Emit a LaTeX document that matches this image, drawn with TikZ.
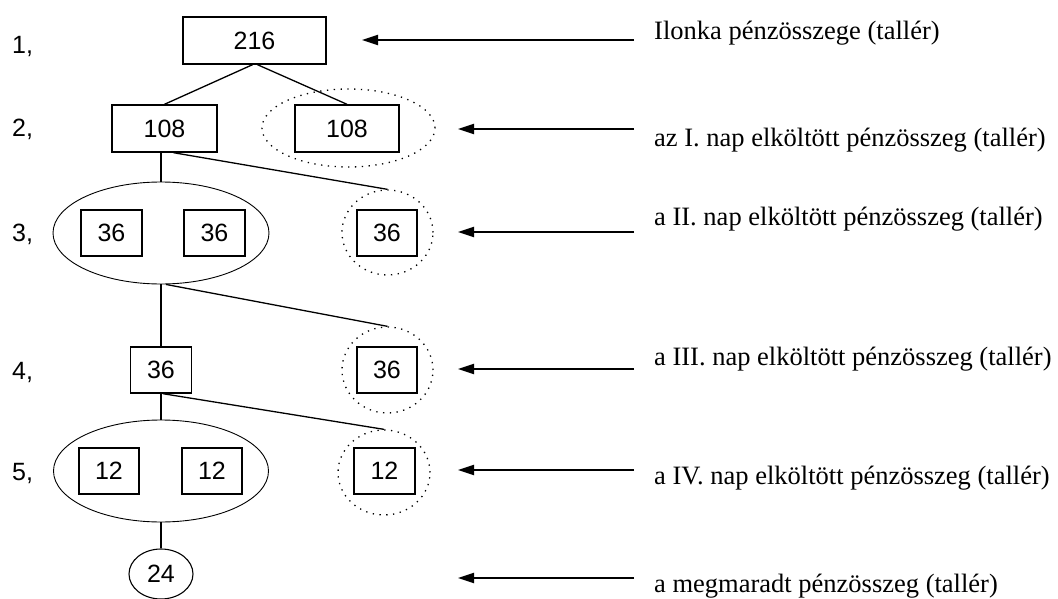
\documentclass[tikz,border=0pt]{standalone}
\usepackage{fontspec}
\setmainfont{Liberation Serif}
\newfontfamily\arialfont{Liberation Sans}
\usetikzlibrary{arrows.meta,shapes.geometric}

\begin{document}
\begin{tikzpicture}[x=1pt,y=-1pt,
  numbox/.style={draw, line width=1.4pt, inner sep=0pt,
    font=\arialfont\fontsize{25}{25}\selectfont},
  grp/.style={draw, ellipse, line width=0.9pt, inner sep=0pt},
  spent/.style={draw, ellipse, line width=1.3pt,
    dash pattern=on 1.3pt off 5.5pt, inner sep=0pt},
  link/.style={line width=1.3pt},
  pointer/.style={line width=2pt, -{Triangle[length=16pt,width=10pt]}},
  note/.style={anchor=base west, inner sep=0pt,
    font=\fontsize{26.5}{30}\selectfont},
  rowlbl/.style={anchor=base west, inner sep=0pt,
    font=\arialfont\fontsize{25}{25}\selectfont}
]
\useasboundingbox (0,0) rectangle (1058,599);

% row numbers
\node[rowlbl] (l1) at (12,54)  {1,};
\node[rowlbl] (l2) at (12,137) {2,};
\node[rowlbl] (l3) at (12,241) {3,};
\node[rowlbl] (l4) at (12,379) {4,};
\node[rowlbl] (l5) at (12,480) {5,};

% level 1
\node[numbox, minimum width=143pt, minimum height=47pt] (b216) at (254.5,40.5) {216};

% level 2
\node[numbox, minimum width=105pt, minimum height=47pt] (b108a) at (164.5,128.5) {108};
\node[spent, minimum width=173pt, minimum height=78pt] (d2) at (348.5,128) {};
\node[numbox, minimum width=104pt, minimum height=47pt] (b108b) at (347,128.5) {108};

% level 3
\node[grp, minimum width=216pt, minimum height=102pt] (g3) at (161,233) {};
\node[numbox, minimum width=61pt, minimum height=46pt] (b36a) at (111.5,233) {36};
\node[numbox, minimum width=61pt, minimum height=46pt] (b36b) at (214.5,233) {36};
\node[spent, minimum width=91pt, minimum height=85pt] (d3) at (387.5,232.5) {};
\node[numbox, minimum width=60pt, minimum height=46pt] (b36c) at (387,233) {36};

% level 4
\node[numbox, minimum width=61pt, minimum height=46pt] (b36) at (161,370) {36};
\node[spent, minimum width=91pt, minimum height=86pt] (d4) at (387.5,370) {};
\node[numbox, minimum width=60pt, minimum height=46pt] (b36d) at (387,370) {36};

% level 5
\node[grp, minimum width=215pt, minimum height=102pt] (g5) at (161,471) {};
\node[numbox, minimum width=60pt, minimum height=46pt] (b12a) at (109,471) {12};
\node[numbox, minimum width=60pt, minimum height=46pt] (b12b) at (212,471) {12};
\node[spent, minimum width=92pt, minimum height=85pt] (d5) at (384,472.5) {};
\node[numbox, minimum width=61pt, minimum height=46pt] (b12c) at (384.5,471) {12};

% remainder
\node[grp, line width=1.1pt, minimum width=64pt, minimum height=50pt,
  font=\arialfont\fontsize{25}{25}\selectfont] (c24) at (161,574) {24};

% tree connectors
\draw[link] ([xshift=-2pt]b216.south) -- (b108a.north);
\draw[link] ([xshift=3pt]b216.south) -- (b108b.north);
\draw[link] (g3.north |- b108a.south) -- (g3.north);
\draw[link] ([xshift=9pt]b108a.south) -- (d3.north);
\draw[link] (g3.south) -- (b36.north);
\draw[link] ([xshift=5pt]g3.south) -- (d4.north);
\draw[link] (b36.south) -- (g5.north);
\draw[link] ([xshift=2pt]b36.south) -- (d5.north);
\draw[link] (g5.south) -- (c24.north);

% pointers to the descriptions
\coordinate (t1) at (634,40);  \coordinate (h1) at (362,40);
\coordinate (t2) at (634,129); \coordinate (h2) at (458,129);
\coordinate (t3) at (634,232); \coordinate (h3) at (458,232);
\coordinate (t4) at (634,369); \coordinate (h4) at (458,369);
\coordinate (t5) at (634,470); \coordinate (h5) at (458,470);
\coordinate (t6) at (634,578); \coordinate (h6) at (458,578);
\foreach \i in {1,...,6} \draw[pointer] (t\i) -- (h\i);

% descriptions
\node[note] (n1) at (654,40)  {Ilonka pénzösszege (tallér)};
\node[note] (n2) at (654,147) {az I. nap elköltött pénzösszeg (tallér)};
\node[note] (n3) at (654,225) {a II. nap elköltött pénzösszeg (tallér)};
\node[note] (n4) at (654,365) {a III. nap elköltött pénzösszeg (tallér)};
\node[note] (n5) at (654,484) {a IV. nap elköltött pénzösszeg (tallér)};
\node[note] (n6) at (654,592) {a megmaradt pénzösszeg (tallér)};
\end{tikzpicture}
\end{document}
